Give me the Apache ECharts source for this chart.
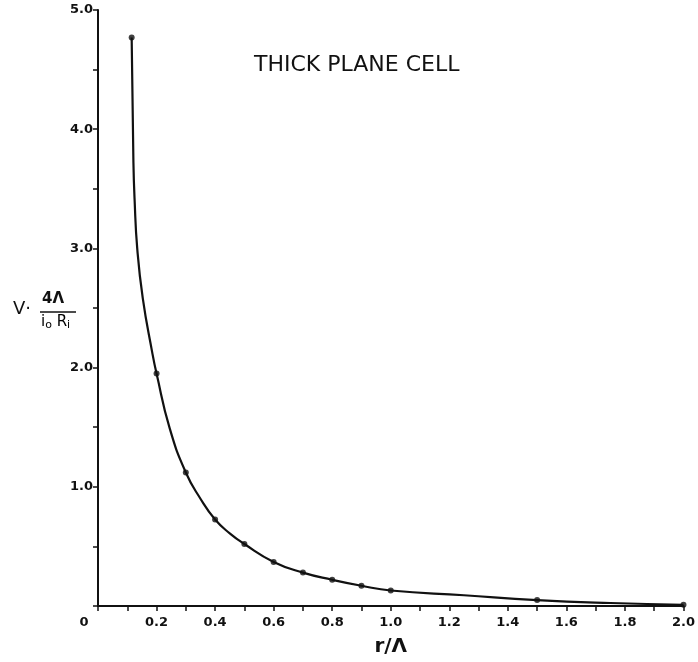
<!DOCTYPE html>
<html>
<head>
<meta charset="utf-8">
<script src="https://cdn.jsdelivr.net/npm/echarts@6/dist/echarts.min.js"></script>
<style>html,body{margin:0;padding:0;background:#fff;}#c{width:698px;height:662px;}</style>
</head>
<body>
<div id="c"></div>
<script>
// measured data points (markers)
var rValues = [0.115, 0.2, 0.3, 0.4, 0.5, 0.6, 0.7, 0.8, 0.9, 1.0, 1.5, 2.0];
var vValues = [4.77, 1.95, 1.12, 0.725, 0.52, 0.37, 0.28, 0.22, 0.17, 0.13, 0.05, 0.01];
// positions
var curveR = [0.115, 0.121, 0.125, 0.134, 0.153, 0.185, 0.2, 0.245, 0.3, 0.35, 0.4, 0.45, 0.5, 0.6, 0.7, 0.8, 0.9, 1.0, 1.25, 1.5, 1.75, 2.0];
var curveV = [4.77, 3.72, 3.41, 3.0, 2.58, 2.13, 1.95, 1.49, 1.12, 0.9, 0.725, 0.61, 0.52, 0.37, 0.28, 0.22, 0.17, 0.13, 0.09, 0.05, 0.025, 0.01];
var xTickLabels = ['0', '0.2', '0.4', '0.6', '0.8', '1.0', '1.2', '1.4', '1.6', '1.8', '2.0'];
var yTickLabels = ['', '1.0', '2.0', '3.0', '4.0', '5.0'];
var titleText = 'THICK PLANE CELL';
var xName = 'r/Λ';

var font = 'DejaVu Sans';
var chart = echarts.init(document.getElementById('c'));
var pts = rValues.map(function (r, i) { return [r, vValues[i]]; });
var curve = curveR.map(function (r, i) { return [r, curveV[i]]; });

chart.setOption({
  animation: false,
  backgroundColor: '#fff',
  title: {
    text: titleText,
    left: 249, top: 49,
    textStyle: { fontFamily: font, fontSize: 22, fontWeight: 'normal', color: '#111' }
  },
  grid: { left: 98, right: 14, top: 10, bottom: 53 },
  xAxis: {
    type: 'value', min: 0, max: 2.0, interval: 0.2,
    name: xName, nameLocation: 'middle', nameGap: 31,
    nameTextStyle: { fontFamily: font, fontSize: 20, fontWeight: 'bold', color: '#111' },
    axisLine: { lineStyle: { color: '#111', width: 2 } },
    axisTick: { length: 5, lineStyle: { color: '#111', width: 1.5 } },
    minorTick: { show: true, splitNumber: 2, length: 5, lineStyle: { color: '#111', width: 1.5 } },
    splitLine: { show: false },
    axisLabel: {
      margin: 10, color: '#111', fontFamily: font, fontSize: 13, fontWeight: 'bold',
      formatter: function (v) {
        var idx = Math.round(v / 0.2);
        var t = xTickLabels[idx];
        if (idx === 0) return '{z|' + t + '}';
        return t;
      },
      rich: { z: { padding: [0, 28, 0, 0], fontFamily: font, fontSize: 13, fontWeight: 'bold', color: '#111' } }
    }
  },
  yAxis: {
    type: 'value', min: 0, max: 5, interval: 1,
    axisLine: { show: true, lineStyle: { color: '#111', width: 2 } },
    axisTick: { show: true, length: 5, lineStyle: { color: '#111', width: 1.5 } },
    minorTick: { show: true, splitNumber: 2, length: 5, lineStyle: { color: '#111', width: 1.5 } },
    splitLine: { show: false },
    axisLabel: {
      margin: 5, color: '#111', fontFamily: font, fontSize: 13, fontWeight: 'bold',
      formatter: function (v) { return yTickLabels[Math.round(v)]; }
    }
  },
  graphic: [
    { type: 'text', left: 13, top: 300, style: { text: 'V·', font: '18px ' + font, fill: '#111' } },
    { type: 'text', left: 42, top: 292, style: { text: '4Λ', font: 'bold 15px ' + font, fill: '#111' } },
    { type: 'line', shape: { x1: 40, y1: 312, x2: 76, y2: 312 }, style: { stroke: '#111', lineWidth: 1.6 } },
    { type: 'text', left: 41, top: 315, style: {
        text: '{a|i}{s|o}{a| R}{s|i}',
        rich: {
          a: { fontFamily: font, fontSize: 15, color: '#111' },
          s: { fontFamily: font, fontSize: 11, color: '#111', padding: [6, 0, 0, 0] }
        } } }
  ],
  series: [{
    type: 'line',
    data: curve,
    smooth: 0.5,
    showSymbol: false,
    symbol: 'none',
    lineStyle: { color: '#111', width: 2.2 }
  }, {
    type: 'scatter',
    data: pts,
    symbol: 'circle',
    symbolSize: 6,
    itemStyle: { color: '#111' }
  }]
});
</script>
</body>
</html>
